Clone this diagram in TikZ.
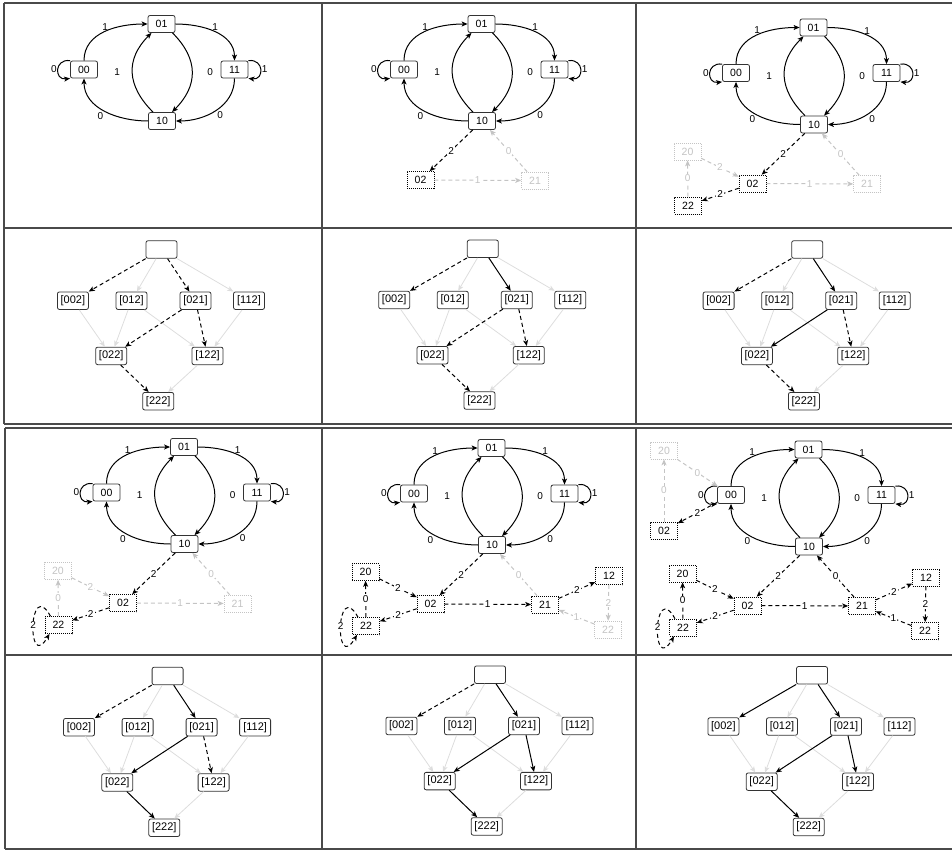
\documentclass[tikz,border=0pt]{standalone}
\usepackage{fontspec}
\setmainfont{Liberation Sans}
\usetikzlibrary{arrows.meta,positioning}

\definecolor{framegray}{HTML}{4A4A4A}
\definecolor{boxgray}{HTML}{333333}
\definecolor{faint}{HTML}{C4C4C4}
\definecolor{faintline}{HTML}{DDDDDD}

\tikzset{
    st/.style={draw=boxgray, line width=.8pt, fill=white, rounded corners=2pt, minimum width=27pt, minimum height=17pt, inner sep=0pt, font=\fontsize{10.5}{12}\selectfont},
    xs/.style={st, rounded corners=0pt, draw=black, dash pattern=on 1pt off 1pt, line width=.6pt},
    xf/.style={xs, draw=faint, text=faint},
    lt/.style={st, minimum width=31pt, minimum height=17.5pt, font=\fontsize{11}{13}\selectfont},
    tr/.style={-{Stealth[length=6pt,width=5pt,inset=1.5pt]}, line width=1pt},
    lbl/.style={font=\fontsize{10}{12}\selectfont, inner sep=1pt},
    onl/.style={lbl, fill=white, pos=.5},
    hd/.style={tr, dash pattern=on 4pt off 3pt},
    fnt/.style={hd, color=faint},
    gr/.style={-{Stealth[length=6pt,width=5pt,inset=1.5pt]}, draw=faintline, line width=.8pt},
    frame/.style={draw=framegray, line width=1.2pt}
}

% de Bruijn graph of the base states
\newcommand{\debruijn}{%
    \node[st] (s01) at (161.5,-24) {01};
    \node[st] (s00) at (84,-69.5) {00};
    \node[st] (s11) at (234.5,-69.5) {11};
    \node[st] (s10) at (162,-121) {10};
    \draw[tr] (s00.north) to[out=90,in=180] node[lbl,above] {1} (s01.west);
    \draw[tr] (s01.east) to[out=0,in=90] node[lbl,above] {1} (s11.north);
    \draw[tr] (s11.south) to[out=-90,in=0] node[lbl,below right] {0} (s10.east);
    \draw[tr] (s10.west) to[out=180,in=-90] node[lbl,below left] {0} (s00.south);
    \draw[tr] ([xshift=-9pt]s10.north) to[out=135,in=-135,looseness=1.2] node[lbl,left=11pt] {1} ([xshift=-10pt]s01.south);
    \draw[tr] ([xshift=11pt]s01.south) to[out=-45,in=45,looseness=1.2] node[lbl,right=14pt] {0} ([xshift=10pt]s10.north);
    \draw[tr] (s00.north west) .. controls +(-16,2) and +(-16,-2) .. (s00.south west) node[lbl,left,pos=.5] {0};
    \draw[tr] (s11.north east) .. controls +(16,2) and +(16,-2) .. (s11.south east) node[lbl,right,pos=.5] {1};
}

% lattice of the classes
\newcommand{\lattice}{%
    \node[lt] (top) at (0,0) {};
    \node[lt] (l002) at (-88.6,-51.2) {[002]};
    \node[lt] (l012) at (-30,-51.2) {[012]};
    \node[lt] (l021) at (34,-51.2) {[021]};
    \node[lt] (l112) at (87.5,-51.2) {[112]};
    \node[lt] (l022) at (-50.3,-106.4) {[022]};
    \node[lt] (l122) at (46,-106.4) {[122]};
    \node[lt] (l222) at (-3.3,-151.7) {[222]};
    \draw
    (top) edge[gr] (l012)
    (top) edge[gr] (l112)
    (l002) edge[gr] (l022)
    (l012) edge[gr] (l022)
    (l012) edge[gr] (l122)
    (l112) edge[gr] (l122)
    (l122) edge[gr] (l222);
}

\begin{document}
\begin{tikzpicture}[x=1pt, y=1pt]
    \useasboundingbox (0,0) rectangle (952,-850);

    % table frames
    \draw[frame] (4,-3) -- (952,-3) (4,-228) -- (952,-228) (4,-424) -- (952,-424)
        (4,-3) -- (4,-424) (322,-3) -- (322,-424) (636,-3) -- (636,-424);
    \draw[frame] (5,-428) -- (952,-428) (5,-655) -- (952,-655) (5,-849) -- (952,-849)
        (5,-428) -- (5,-849) (322,-428) -- (322,-849) (636,-428) -- (636,-849);

    % step 1
    \begin{scope}[name prefix=a-]
        \debruijn
    \end{scope}

    % step 2
    \begin{scope}[shift={(320,0)}, name prefix=b-]
        \debruijn
        \node[xs] (x02) at (100.5,-180) {02};
        \node[xf] (x21) at (215,-180.5) {21};
        \draw
        (s10) edge[hd] node[onl] {2} (x02)
        (x02) edge[fnt] node[onl] {1} (x21)
        (x21) edge[fnt] node[onl] {0} (s10);
    \end{scope}

    % step 3
    \begin{scope}[shift={(652,-3.5)}, name prefix=c-]
        \debruijn
        \node[xs] (x02) at (100.5,-180) {02};
        \node[xf] (x21) at (215,-180.5) {21};
        \node[xf] (x20) at (35.5,-148) {20};
        \node[xs] (x22) at (36,-202) {22};
        \draw
        (s10) edge[hd] node[onl] {2} (x02)
        (x02) edge[fnt] node[onl] {1} (x21)
        (x21) edge[fnt] node[onl] {0} (s10)
        (x02) edge[hd] node[onl] {2} (x22)
        (x20) edge[fnt] node[onl] {2} (x02)
        (x22) edge[fnt] node[onl] {0} (x20);
    \end{scope}

    % step 4
    \begin{scope}[shift={(22.5,-423)}, name prefix=d-]
        \debruijn
        \node[xs] (x02) at (100.5,-180) {02};
        \node[xf] (x21) at (215,-180.5) {21};
        \node[xf] (x20) at (35.5,-148) {20};
        \node[xs] (x22) at (36,-202) {22};
        \draw
        (s10) edge[hd] node[onl] {2} (x02)
        (x02) edge[fnt] node[onl] {1} (x21)
        (x21) edge[fnt] node[onl] {0} (s10)
        (x02) edge[hd] node[onl] {2} (x22)
        (x20) edge[fnt] node[onl] {2} (x02)
        (x22) edge[fnt] node[onl] {0} (x20);
        \draw[hd] ([xshift=-8pt]x22.north) .. controls +(-22,39.5) and +(-23,-39.5) .. ([xshift=-9pt]x22.south) node[onl] {2};
    \end{scope}

    % step 5
    \begin{scope}[shift={(330,-424)}, name prefix=e-]
        \debruijn
        \node[xs] (x02) at (100.5,-180) {02};
        \node[xs] (x21) at (215,-180.5) {21};
        \node[xs] (x20) at (35.5,-148) {20};
        \node[xs] (x22) at (36,-202) {22};
        \node[xs] (x12) at (279,-152) {12};
        \node[xf] (y22) at (278,-205.5) {22};
        \draw
        (s10) edge[hd] node[onl] {2} (x02)
        (x02) edge[hd] node[onl] {1} (x21)
        (x21) edge[fnt] node[onl] {0} (s10)
        (x02) edge[hd] node[onl] {2} (x22)
        (x20) edge[hd] node[onl] {2} (x02)
        (x22) edge[hd] node[onl] {0} (x20)
        (x21) edge[hd] node[onl] {2} (x12)
        (x12) edge[fnt] node[onl] {2} (y22)
        (y22) edge[fnt] node[onl] {1} (x21);
        \draw[hd] ([xshift=-8pt]x22.north) .. controls +(-22,39.5) and +(-23,-39.5) .. ([xshift=-9pt]x22.south) node[onl] {2};
    \end{scope}

    % step 6
    \begin{scope}[shift={(647,-425.5)}, name prefix=f-]
        \debruijn
        \node[xf] (c20) at (17,-25) {20};
        \node[xs] (c02) at (17,-105) {02};
        \node[xs] (x02) at (100.5,-180) {02};
        \node[xs] (x21) at (215,-180.5) {21};
        \node[xs] (x20) at (35.5,-148) {20};
        \node[xs] (x22) at (36,-202) {22};
        \node[xs] (x12) at (279,-152) {12};
        \node[xs] (y22) at (278,-205.5) {22};
        \draw
        (s00) edge[hd] node[onl] {2} (c02)
        (c02) edge[fnt] node[onl] {0} (c20)
        (c20) edge[fnt] node[onl] {0} (s00)
        (s10) edge[hd] node[onl] {2} (x02)
        (x02) edge[hd] node[onl] {1} (x21)
        (x21) edge[hd] node[onl] {0} (s10)
        (x02) edge[hd] node[onl] {2} (x22)
        (x20) edge[hd] node[onl] {2} (x02)
        (x22) edge[hd] node[onl] {0} (x20)
        (x21) edge[hd] node[onl] {2} (x12)
        (x12) edge[hd] node[onl] {2} (y22)
        (y22) edge[hd] node[onl] {1} (x21);
        \draw[hd] ([xshift=-8pt]x22.north) .. controls +(-22,39.5) and +(-23,-39.5) .. ([xshift=-9pt]x22.south) node[onl] {2};
    \end{scope}

    % lattices
    \begin{scope}[shift={(161.5,-249.5)}, name prefix=la-]
        \lattice
        \draw
        (top) edge[hd] (l002)
        (top) edge[hd] (l021)
        (l021) edge[hd] (l022)
        (l021) edge[hd] (l122)
        (l022) edge[hd] (l222);
    \end{scope}

    \begin{scope}[shift={(482.8,-248.8)}, name prefix=lb-]
        \lattice
        \draw
        (top) edge[hd] (l002)
        (top) edge[tr] (l021)
        (l021) edge[hd] (l022)
        (l021) edge[hd] (l122)
        (l022) edge[hd] (l222);
    \end{scope}

    \begin{scope}[shift={(807.2,-249.5)}, name prefix=lc-]
        \lattice
        \draw
        (top) edge[hd] (l002)
        (top) edge[tr] (l021)
        (l021) edge[tr] (l022)
        (l021) edge[hd] (l122)
        (l022) edge[hd] (l222);
    \end{scope}

    \begin{scope}[shift={(167.6,-676)}, name prefix=ld-]
        \lattice
        \draw
        (top) edge[hd] (l002)
        (top) edge[tr] (l021)
        (l021) edge[tr] (l022)
        (l021) edge[hd] (l122)
        (l022) edge[tr] (l222);
    \end{scope}

    \begin{scope}[shift={(490,-674.7)}, name prefix=le-]
        \lattice
        \draw
        (top) edge[hd] (l002)
        (top) edge[tr] (l021)
        (l021) edge[tr] (l022)
        (l021) edge[tr] (l122)
        (l022) edge[tr] (l222);
    \end{scope}

    \begin{scope}[shift={(812,-675.3)}, name prefix=lf-]
        \lattice
        \draw
        (top) edge[tr] (l002)
        (top) edge[tr] (l021)
        (l021) edge[tr] (l022)
        (l021) edge[tr] (l122)
        (l022) edge[tr] (l222);
    \end{scope}
\end{tikzpicture}
\end{document}
